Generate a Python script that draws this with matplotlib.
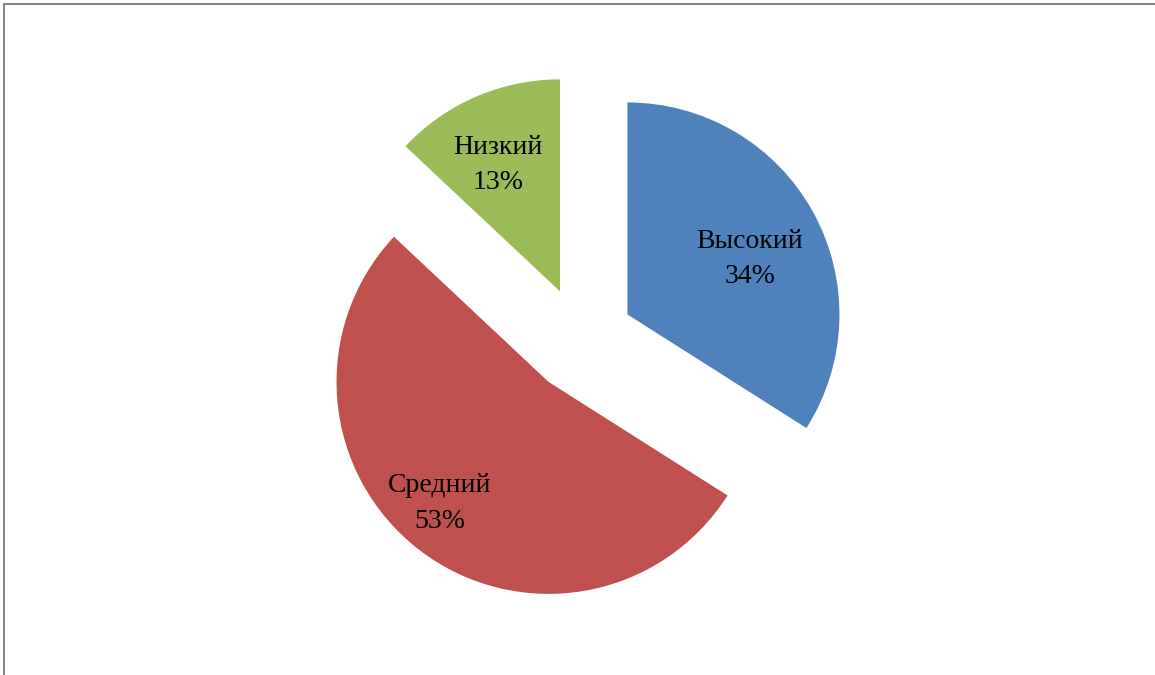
import matplotlib
matplotlib.use('Agg')
from matplotlib import pyplot as plt
from matplotlib.lines import Line2D
import numpy as np

labels = ['Высокий', 'Средний', 'Низкий']
values = [34, 53, 13]
colors = ['#4F81BD', '#C0504D', '#9BBB59']
# label distance from the wedge tip (in radii) and small angular nudge (deg)
label_dist = [0.634, 0.77, 0.665]
label_turn = [-4.5, -4.0, 2.8]

W, H = 1155, 675
cx, cy = 581, 340      # pie centre in pixels (from top)
R = 212.0              # pie radius in pixels

fig = plt.figure(figsize=(W / 100, H / 100), dpi=100)
ax = fig.add_axes([0, 0, 1, 1])

explode = 0.25
wedges, _ = ax.pie(values, colors=colors, startangle=90, counterclock=False,
                   explode=[explode] * len(values), radius=1.0,
                   wedgeprops=dict(linewidth=0))

# pie() resets the limits, so set them afterwards
ax.set_xlim(-cx / R, (W - cx) / R)
ax.set_ylim(-(H - cy) / R, cy / R)
ax.set_aspect('equal')
ax.axis('off')

for w, lab, v, ld, lt in zip(wedges, labels, values, label_dist, label_turn):
    mid = np.deg2rad((w.theta1 + w.theta2) / 2)
    tip = explode * np.array([np.cos(mid), np.sin(mid)])
    a = mid + np.deg2rad(lt)
    x, y = tip + ld * np.array([np.cos(a), np.sin(a)])
    ax.text(x, y, '%s\n%d%%' % (lab, v),
            ha='center', va='center', fontsize=20, family='Liberation Serif',
            linespacing=1.55)

# thin grey frame (left and top edges)
fig.add_artist(Line2D([3.5 / W, 3.5 / W], [0, 1 - 4 / H], transform=fig.transFigure,
                      color='#888888', lw=1.5))
fig.add_artist(Line2D([3.5 / W, 1], [1 - 4 / H, 1 - 4 / H], transform=fig.transFigure,
                      color='#888888', lw=1.5))

fig.savefig('out.png', dpi=100)
